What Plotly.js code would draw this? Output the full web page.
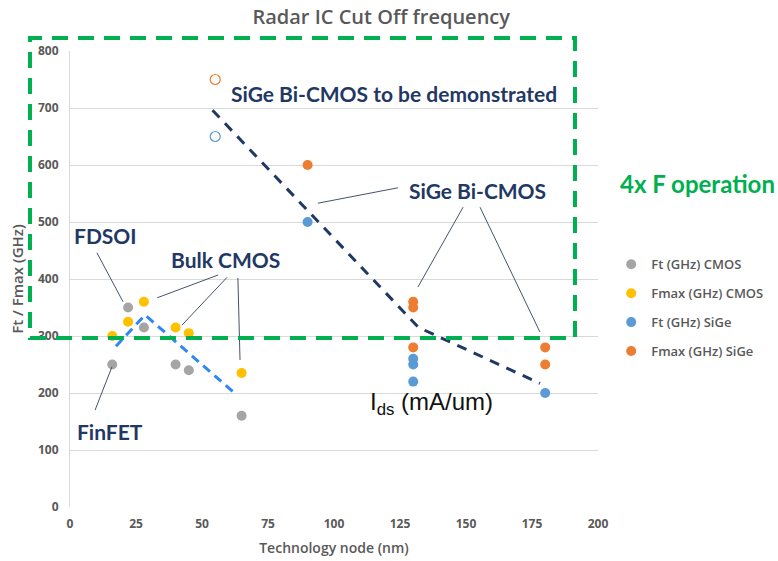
<!DOCTYPE html>
<html>
<head>
<meta charset="utf-8">
<script src="https://cdn.plot.ly/plotly-3.0.1.min.js"></script>
<style>html,body{margin:0;padding:0;background:#fff;}#chart{width:778px;height:561px;}</style>
</head>
<body>
<div id="chart"></div>
<script>
// ---- data ----
const seriesNames = ["Ft (GHz) CMOS", "Fmax (GHz) CMOS", "Ft (GHz) SiGe", "Fmax (GHz) SiGe"];
const ftCmosX = [16, 22, 28, 40, 45, 65];
const ftCmosY = [250, 350, 315, 250, 240, 160];
const fmaxCmosX = [16, 22, 28, 40, 45, 65];
const fmaxCmosY = [300, 325, 360, 315, 305, 235];
const ftSigeX = [90, 130, 130, 130, 180];
const ftSigeY = [500, 260, 250, 220, 200];
const fmaxSigeX = [90, 130, 130, 130, 180, 180];
const fmaxSigeY = [600, 360, 350, 280, 280, 250];
// projected (hollow) points
const ftSigeFutureX = [55];
const ftSigeFutureY = [650];
const fmaxSigeFutureX = [55];
const fmaxSigeFutureY = [750];
// trend lines
const sigeTrendX = [54, 132, 178];
const sigeTrendY = [696, 315, 217];
const cmosTrendX = [17.4, 28.4, 63.3];
const cmosTrendY = [282, 337, 196];
const xTicks = [0, 25, 50, 75, 100, 125, 150, 175, 200];
const yTicks = [0, 100, 200, 300, 400, 500, 600, 700, 800];
// callout lines [x0, y0, x1, y1]
const calloutLines = [
  [10.2, 446, 20.1, 360],   // FDSOI
  [9.5, 170, 15.9, 246],    // FinFET
  [56.1, 407, 33, 367],     // Bulk CMOS
  [59.5, 403, 42.4, 319],
  [63.6, 402, 64.4, 258],
  [124.2, 560, 93.9, 533],  // SiGe Bi-CMOS
  [148.9, 526, 131.8, 386],
  [155.3, 526, 178, 307]
];

const colors = ["#a5a5a5", "#ffc000", "#5b9bd5", "#ed7d31"];
const gray = "#595959";
const navy = "#1f3864";

function pts(x, y, i, k) {
  return {x: x, y: y, type: "scatter", mode: "markers", name: seriesNames[i],
    legendgroup: "g" + k, hoverinfo: "x+y",
    marker: {color: colors[i], size: 10}};
}
const traces = [
  pts(ftCmosX, ftCmosY, 0, 0),
  pts(fmaxCmosX, fmaxCmosY, 1, 1),
  pts(ftSigeX, ftSigeY, 2, 2),
  pts(fmaxSigeX, fmaxSigeY, 3, 3),
  {x: ftSigeFutureX, y: ftSigeFutureY, type: "scatter", mode: "markers", showlegend: false,
   marker: {color: colors[2], size: 10, symbol: "circle-open", line: {width: 1.2}}},
  {x: fmaxSigeFutureX, y: fmaxSigeFutureY, type: "scatter", mode: "markers", showlegend: false,
   marker: {color: colors[3], size: 10, symbol: "circle-open", line: {width: 1.2}}},
  {x: sigeTrendX, y: sigeTrendY, type: "scatter", mode: "lines", showlegend: false, hoverinfo: "skip",
   line: {color: navy, width: 3, dash: "10px,8px"}},
  {x: cmosTrendX, y: cmosTrendY, type: "scatter", mode: "lines", showlegend: false, hoverinfo: "skip",
   line: {color: "#2f86f5", width: 3, dash: "9px,6px"}}
];

const shapes = calloutLines.map(c => ({type: "line", xref: "x", yref: "y",
  x0: c[0], y0: c[1], x1: c[2], y1: c[3], line: {color: "#44546a", width: 1}}));
shapes.push({type: "rect", xref: "paper", yref: "paper",
  x0: -0.0758, x1: 0.9564, y0: 0.3706, y1: 1.0285,
  line: {color: "#00b050", width: 4, dash: "16px,10px"}});

const lbl = {family: "Lato, 'Open Sans', sans-serif", size: 21, color: navy, weight: 700};
function note(t, x, y, f) {
  return {text: t, x: x, y: y, xref: "x", yref: "y", showarrow: false, xanchor: "center", yanchor: "middle", font: f};
}
const annotations = [
  note("<b>SiGe Bi-CMOS to be demonstrated</b>", 122.7, 726, lbl),
  note("<b>SiGe Bi-CMOS</b>", 154.5, 556, lbl),
  note("<b>FDSOI</b>", 13.6, 477, lbl),
  note("<b>Bulk CMOS</b>", 59, 435, lbl),
  note("<b>FinFET</b>", 15, 132, lbl),
  {text: "<b>4x F operation</b>", x: 1.1875, y: 0.7105, xref: "paper", yref: "paper", showarrow: false,
   xanchor: "center", yanchor: "middle",
   font: {family: "Lato, 'Open Sans', sans-serif", size: 24, color: "#00b050"}},
  note("I<sub>ds</sub> (mA/um)", 137, 182, {family: "'Liberation Sans', Arial, sans-serif", size: 24, color: "#111"})
];

const tickFont = {family: "'Open Sans', sans-serif", size: 12, color: gray, weight: 700};
const layout = {
  width: 778, height: 561,
  margin: {l: 70, r: 180, t: 51, b: 54, autoexpand: false},
  paper_bgcolor: "#fff", plot_bgcolor: "#fff",
  title: {text: "Radar IC Cut Off frequency", x: 0.49, xref: "container", y: 0.97, yref: "container",
    xanchor: "center", yanchor: "middle", font: {family: "'Open Sans', sans-serif", size: 20, color: gray, weight: 600}},
  xaxis: {range: [0, 200], tickvals: xTicks, ticktext: xTicks.map(String), showgrid: false, zeroline: false,
    showline: false, ticks: "", tickfont: tickFont, ticklabelstandoff: 8,
    title: {text: "Technology node (nm)", font: {family: "'Open Sans', sans-serif", size: 14, color: gray, weight: 600}, standoff: 12}},
  yaxis: {range: [0, 800], tickvals: yTicks, ticktext: yTicks.map(String), showgrid: true, gridcolor: "#d9d9d9",
    zeroline: false, showline: true, linecolor: "#d9d9d9", ticks: "", tickfont: tickFont, ticklabelstandoff: 8,
    title: {text: "Ft / Fmax (GHz)", font: {family: "'Open Sans', sans-serif", size: 15, color: gray, weight: 600}, standoff: 10}},
  legend: {x: 1.025, xanchor: "left", y: 0.565, yanchor: "top", traceorder: "grouped", tracegroupgap: 9,
    itemwidth: 30,
    font: {family: "'Open Sans', sans-serif", size: 13, color: gray, weight: 600}, bgcolor: "rgba(0,0,0,0)"},
  shapes: shapes,
  annotations: annotations,
  showlegend: true
};
Plotly.newPlot("chart", traces, layout, {displayModeBar: false, staticPlot: true});
</script>
</body>
</html>
